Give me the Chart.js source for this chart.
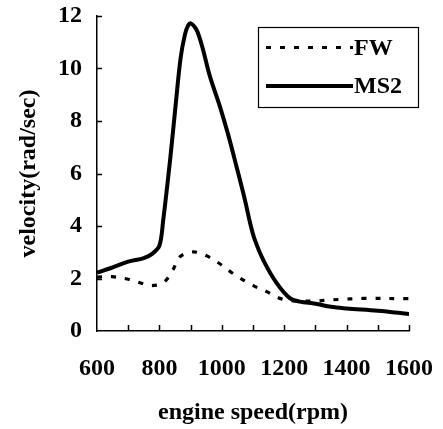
<!DOCTYPE html>
<html>
<head>
<meta charset="utf-8">
<script src="https://cdn.jsdelivr.net/npm/chart.js@4.4.0/dist/chart.umd.min.js"></script>
<style>
html,body{margin:0;padding:0;background:#fff;}
#wrap{width:443px;height:429px;position:relative;}
</style>
</head>
<body>
<div id="wrap"><canvas id="c" width="443" height="429"></canvas></div>
<script>
// Data
const ms2Rpm = [600,645,700,750,778,800,812,835,852,868,882,893,901,912,922,938,962,994,1020,1042,1074,1090,1105,1133,1176,1218,1250,1300,1350,1400,1500,1600];
const ms2Vel = [2.22,2.4,2.64,2.78,2.95,3.25,4.2,6.6,8.6,10.4,11.3,11.66,11.72,11.6,11.4,10.8,9.7,8.55,7.5,6.5,5.0,4.15,3.5,2.7,1.82,1.25,1.12,1.04,0.92,0.86,0.77,0.65];
const fwRpm = [600,648,700,738,765,792,810,824,843,866,900,920,952,989,1032,1069,1101,1144,1181,1208,1261,1300,1346,1373,1453,1600];
const fwVel = [2.05,2.07,1.97,1.84,1.74,1.75,1.82,1.97,2.32,2.83,3.0,3.0,2.86,2.6,2.22,1.94,1.73,1.5,1.27,1.18,1.14,1.14,1.18,1.2,1.24,1.23];
const xTickValues = [600,700,800,900,1000,1100,1200,1300,1400,1500,1600];
const xLabelValues = [600,800,1000,1200,1400,1600];
const yTickValues = [0,2,4,6,8,10,12];
const seriesNames = ['FW','MS2'];
const xTitle = 'engine speed(rpm)';
const yTitle = 'velocity(rad/sec)';

const FONT = '"Liberation Serif", "Times New Roman", serif';

const toPts = (xs, ys) => xs.map((x, i) => ({x: x, y: ys[i]}));

const innerTicks = {
  id: 'innerTicks',
  afterDraw(chart) {
    const ctx = chart.ctx;
    const xs = chart.scales.x, ys = chart.scales.y;
    ctx.save();
    ctx.strokeStyle = '#000';
    ctx.lineWidth = 1.5;
    ctx.beginPath();
    xTickValues.forEach(v => {
      if (v === xs.min) return;
      const px = Math.round(xs.getPixelForValue(v)) + 0.5;
      ctx.moveTo(px, ys.bottom);
      ctx.lineTo(px, ys.bottom - 6);
    });
    yTickValues.forEach(v => {
      if (v === ys.min) return;
      const py = Math.round(ys.getPixelForValue(v)) + 0.5;
      ctx.moveTo(xs.left, py);
      ctx.lineTo(xs.left + 5, py);
    });
    ctx.stroke();
    ctx.restore();
  }
};

const boxLegend = {
  id: 'boxLegend',
  afterDraw(chart) {
    const ctx = chart.ctx;
    ctx.save();
    const bx = 258, by = 27, bw = 160, bh = 80;
    ctx.fillStyle = '#fff';
    ctx.fillRect(bx, by, bw, bh);
    ctx.strokeStyle = '#000';
    ctx.lineWidth = 1.2;
    ctx.strokeRect(bx + 0.5, by + 0.5, bw, bh);
    const rows = [47.5, 86];
    chart.data.datasets.forEach((ds, i) => {
      const y = rows[i];
      ctx.beginPath();
      ctx.setLineDash(ds.borderDash || []);
      ctx.lineWidth = ds.borderWidth;
      ctx.strokeStyle = ds.borderColor;
      ctx.moveTo(266, y);
      ctx.lineTo(353, y);
      ctx.stroke();
      ctx.setLineDash([]);
      ctx.fillStyle = '#000';
      ctx.font = 'bold 24px ' + FONT;
      ctx.textBaseline = 'middle';
      ctx.textAlign = 'left';
      ctx.fillText(ds.label, 354, y + 1);
    });
    ctx.restore();
  }
};

new Chart(document.getElementById('c'), {
  type: 'line',
  data: {
    datasets: [
      {
        label: seriesNames[0],
        data: toPts(fwRpm, fwVel),
        borderColor: '#000',
        borderWidth: 3.2,
        borderDash: [5, 9],
        pointRadius: 0,
        fill: false,
        tension: 0.35
      },
      {
        label: seriesNames[1],
        data: toPts(ms2Rpm, ms2Vel),
        borderColor: '#000',
        borderWidth: 4,
        pointRadius: 0,
        fill: false,
        tension: 0.35
      }
    ]
  },
  options: {
    responsive: false,
    animation: false,
    devicePixelRatio: 1,
    layout: { padding: { left: 0, right: 34, top: 16, bottom: 0 } },
    plugins: {
      legend: { display: false },
      tooltip: { enabled: false }
    },
    scales: {
      x: {
        type: 'linear',
        min: 600,
        max: 1600,
        afterBuildTicks(scale) { scale.ticks = xLabelValues.map(v => ({value: v})); },
        afterFit(scale) { scale.height = 98; scale.paddingLeft = 0; scale.paddingRight = 0; },
        grid: { display: false, drawTicks: false },
        border: { display: true, color: '#000', width: 1.5 },
        ticks: {
          autoSkip: false,
          maxRotation: 0,
          padding: 23,
          color: '#000',
          callback: v => String(v),
          font: { family: FONT, size: 24, weight: 'bold' }
        },
        title: {
          display: true,
          text: xTitle,
          color: '#000',
          padding: { top: 0, bottom: 2 },
          font: { family: FONT, size: 24, weight: 'bold' }
        }
      },
      y: {
        min: 0,
        max: 12,
        afterBuildTicks(scale) { scale.ticks = yTickValues.map(v => ({value: v})); },
        afterFit(scale) { scale.width = 97; scale.paddingTop = 0; scale.paddingBottom = 0; },
        grid: { display: false, drawTicks: false },
        border: { display: true, color: '#000', width: 1.5 },
        ticks: {
          padding: 15,
          color: '#000',
          callback: v => String(v),
          font: { family: FONT, size: 24, weight: 'bold' }
        },
        title: {
          display: true,
          text: yTitle,
          color: '#000',
          padding: { top: 14, bottom: 0 },
          font: { family: FONT, size: 24, weight: 'bold' }
        }
      }
    }
  },
  plugins: [innerTicks, boxLegend]
});
</script>
</body>
</html>
